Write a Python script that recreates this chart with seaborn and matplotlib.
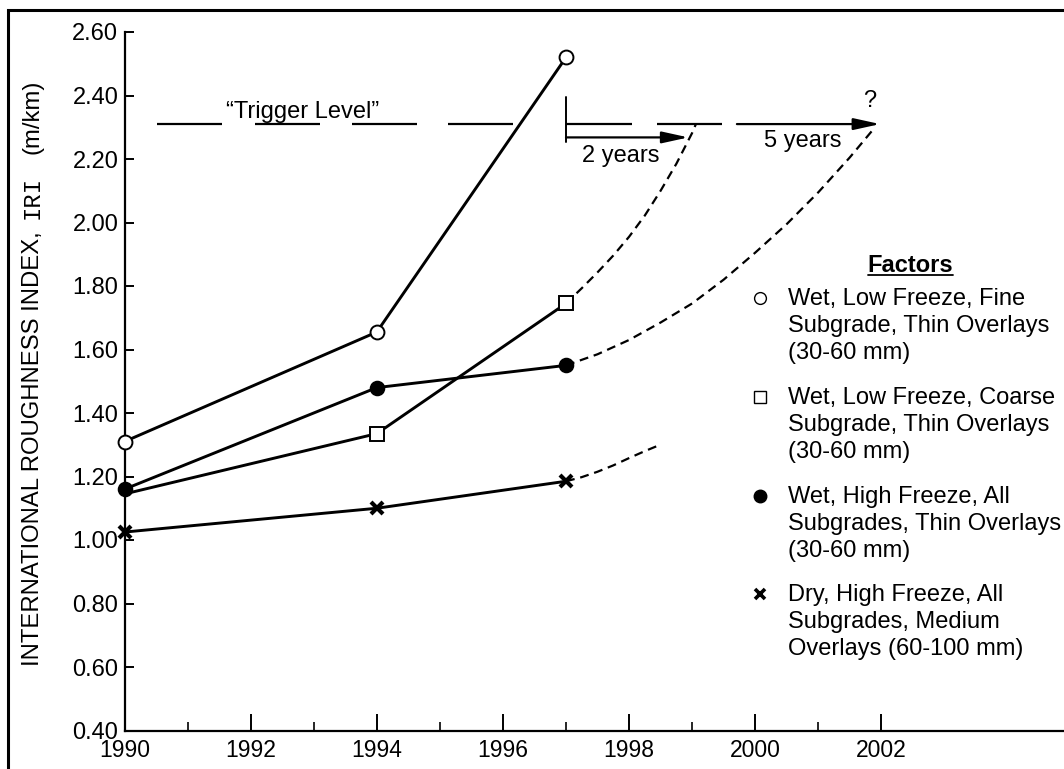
import matplotlib
matplotlib.use("Agg")
import matplotlib.pyplot as plt
from matplotlib.patches import Rectangle
from matplotlib.lines import Line2D
import seaborn as sns

# Surveyed roughness (IRI, m/km) by survey year for each group of sections
survey_years = [1990, 1994, 1997]
iri_wet_low_fine = [1.31, 1.655, 2.52]
iri_wet_low_coarse = [1.145, 1.335, 1.745]
iri_wet_high_all = [1.16, 1.48, 1.55]
iri_dry_high_medium = [1.025, 1.10, 1.185]

# Projected roughness after the last survey
proj_coarse_years = [1997.0, 1997.25, 1997.5, 1997.75, 1998.0, 1998.25, 1998.5, 1998.75, 1999.0, 1999.06]
proj_coarse_iri = [1.745, 1.793, 1.843, 1.896, 1.955, 2.022, 2.10, 2.185, 2.282, 2.31]
proj_high_years = [1997.0, 1997.5, 1998.0, 1998.5, 1999.0, 1999.5, 2000.0, 2000.5, 2001.0, 2001.5, 2001.9]
proj_high_iri = [1.55, 1.585, 1.63, 1.685, 1.745, 1.82, 1.905, 1.995, 2.095, 2.205, 2.30]
proj_dry_years = [1997.0, 1997.25, 1997.5, 1997.75, 1998.0, 1998.25, 1998.47]
proj_dry_iri = [1.185, 1.198, 1.215, 1.235, 1.258, 1.28, 1.298]

# Rehabilitation trigger
trigger_level = 2.31
trigger_dash_starts = [1990.52, 1992.07, 1993.61, 1995.13, 1997.0, 1998.44]
trigger_dash_ends = [1991.55, 1993.10, 1994.64, 1996.16, 1998.05, 1999.47]
last_survey = 1997
two_year_end = 1998.94
five_year_start, five_year_end = 1999.71, 2001.98

x_major = [1990, 1992, 1994, 1996, 1998, 2000, 2002]
x_minor = [1991, 1993, 1995, 1997, 1999, 2001]
y_ticks = [0.40, 0.60, 0.80, 1.00, 1.20, 1.40, 1.60, 1.80, 2.00, 2.20, 2.40, 2.60]

legend_labels = [
    "Wet, Low Freeze, Fine\nSubgrade, Thin Overlays\n(30-60 mm)",
    "Wet, Low Freeze, Coarse\nSubgrade, Thin Overlays\n(30-60 mm)",
    "Wet, High Freeze, All\nSubgrades, Thin Overlays\n(30-60 mm)",
    "Dry, High Freeze, All\nSubgrades, Medium\nOverlays (60-100 mm)",
]

sns.set_theme(style="white")
plt.rcParams["font.family"] = ["Liberation Sans", "DejaVu Sans"]
plt.rcParams["text.color"] = "black"

W, H = 1064, 769
fig = plt.figure(figsize=(W / 100, H / 100), dpi=100)
fig.patch.set_facecolor("white")
ax = fig.add_axes([124.5 / W, 38.5 / H, (W - 124.5) / W, 698.5 / H])
ax.set_facecolor("white")

solid = dict(color="black", linewidth=2.1, clip_on=False, zorder=4)
dashed = dict(color="black", linewidth=1.6, linestyle=(0, (4, 2.6)), clip_on=False, zorder=2)

# projections first so the markers sit on top
sns.lineplot(x=proj_coarse_years, y=proj_coarse_iri, ax=ax, sort=False, **dashed)
sns.lineplot(x=proj_high_years, y=proj_high_iri, ax=ax, sort=False, **dashed)
sns.lineplot(x=proj_dry_years, y=proj_dry_iri, ax=ax, sort=False, **dashed)

sns.lineplot(x=survey_years, y=iri_wet_low_coarse, ax=ax, marker="s", markersize=9.5,
             markerfacecolor="white", markeredgecolor="black", markeredgewidth=1.4,
             markevery=[1, 2], **solid)
sns.lineplot(x=survey_years, y=iri_wet_high_all, ax=ax, marker="o", markersize=10,
             markerfacecolor="black", markeredgecolor="black", markeredgewidth=1.2, **solid)
sns.lineplot(x=survey_years, y=iri_wet_low_fine, ax=ax, marker="o", markersize=10,
             markerfacecolor="white", markeredgecolor="black", markeredgewidth=1.4, **solid)
sns.lineplot(x=survey_years, y=iri_dry_high_medium, ax=ax, marker="x", markersize=8.5,
             markeredgecolor="black", markeredgewidth=3.0, **solid)

# trigger level, drawn as long dashes
ax.hlines([trigger_level] * len(trigger_dash_starts), trigger_dash_starts, trigger_dash_ends,
          colors="black", linewidth=1.6, zorder=3)
ax.text(1992.83, 2.33, "\u201cTrigger Level\u201d", ha="center", va="baseline", fontsize=17)

# time-to-trigger arrows
ax.plot([last_survey, last_survey], [2.255, 2.396], color="black", linewidth=1.4, zorder=3)
arrow_style = "-|>,head_length=1.0,head_width=0.22"
ax.annotate("", xy=(two_year_end, 2.268), xytext=(last_survey, 2.268),
            arrowprops=dict(arrowstyle=arrow_style, mutation_scale=16, color="black",
                            linewidth=1.6, shrinkA=0, shrinkB=0))
ax.annotate("", xy=(five_year_end, trigger_level), xytext=(five_year_start, trigger_level),
            arrowprops=dict(arrowstyle=arrow_style, mutation_scale=16, color="black",
                            linewidth=1.6, shrinkA=0, shrinkB=0))
ax.text(1997.87, 2.191, "2 years", ha="center", va="baseline", fontsize=17)
ax.text(2000.76, 2.239, "5 years", ha="center", va="baseline", fontsize=17)
ax.text(2001.82, 2.365, "?", ha="center", va="baseline", fontsize=17)

# axes
ax.set_xlim(1990, 1990 + (W - 124.5) / 63.07)
ax.set_ylim(0.40, 2.60)
ax.set_xticks(x_major)
ax.set_xticks(x_minor, minor=True)
ax.set_yticks(y_ticks)
ax.set_yticklabels([f"{v:.2f}" for v in y_ticks])
for side in ("top", "right"):
    ax.spines[side].set_visible(False)
for side in ("left", "bottom"):
    ax.spines[side].set_color("black")
    ax.spines[side].set_linewidth(1.6)
ax.tick_params(axis="x", which="major", direction="in", length=12, width=1.4,
               pad=6, labelsize=16.5, colors="black", bottom=True)
ax.tick_params(axis="x", which="minor", direction="in", length=6.5, width=1.4, bottom=True)
ax.tick_params(axis="y", which="major", direction="in", length=6.5, width=1.4,
               pad=4.5, labelsize=17, colors="black", left=True)
ax.grid(False)

# key
def fx(px):
    return px / W

def fy(py):
    return 1 - py / H

fig.text(fx(910), fy(265), "Factors", ha="center", va="center", fontsize=17, fontweight="bold")
fig.add_artist(Line2D([fx(868), fx(953)], [fy(275), fy(275)], color="black", linewidth=1.3))
key_rows = [298, 397, 496, 594]
key_markers = [
    dict(marker="o", markersize=8.5, markerfacecolor="white", markeredgecolor="black", markeredgewidth=1.0),
    dict(marker="s", markersize=8.5, markerfacecolor="white", markeredgecolor="black", markeredgewidth=1.0),
    dict(marker="o", markersize=9, markerfacecolor="black", markeredgecolor="black", markeredgewidth=1.0),
    dict(marker="x", markersize=7, markeredgecolor="black", markeredgewidth=2.6),
]
for row, style, label in zip(key_rows, key_markers, legend_labels):
    fig.add_artist(Line2D([fx(760)], [fy(row)], linestyle="none", **style))
    fig.text(fx(788), fy(row - 10), label, ha="left", va="top", fontsize=17, linespacing=1.3)

# y-axis title: sans-serif with the IRI abbreviation in a typewriter face
fig.canvas.draw()
renderer = fig.canvas.get_renderer()
title_parts = [("INTERNATIONAL ROUGHNESS INDEX,", "Liberation Sans"),
               ("IRI", "Liberation Mono"),
               ("(m/km)", "Liberation Sans")]
gaps = [12, 22]
title_size = 17.2
lengths = []
for text, fam in title_parts:
    t = fig.text(0, 0, text, rotation=90, fontsize=title_size, family=fam)
    lengths.append(t.get_window_extent(renderer).height)
    t.remove()
total = sum(lengths) + sum(gaps)
y_pos = (H - 372.5) - total / 2
for i, (text, fam) in enumerate(title_parts):
    fig.text(fx(38.5), y_pos / H, text, rotation=90, rotation_mode="anchor",
             ha="left", va="baseline", fontsize=title_size, family=fam)
    y_pos += lengths[i] + (gaps[i] if i < len(gaps) else 0)

# outer frame (runs off the right and bottom edges)
fig.add_artist(Rectangle((fx(8), -0.05), 1.1, fy(10) + 0.05,
                         transform=fig.transFigure, fill=False, edgecolor="black", linewidth=2.2))

fig.savefig("out.png", dpi=100, facecolor="white")
